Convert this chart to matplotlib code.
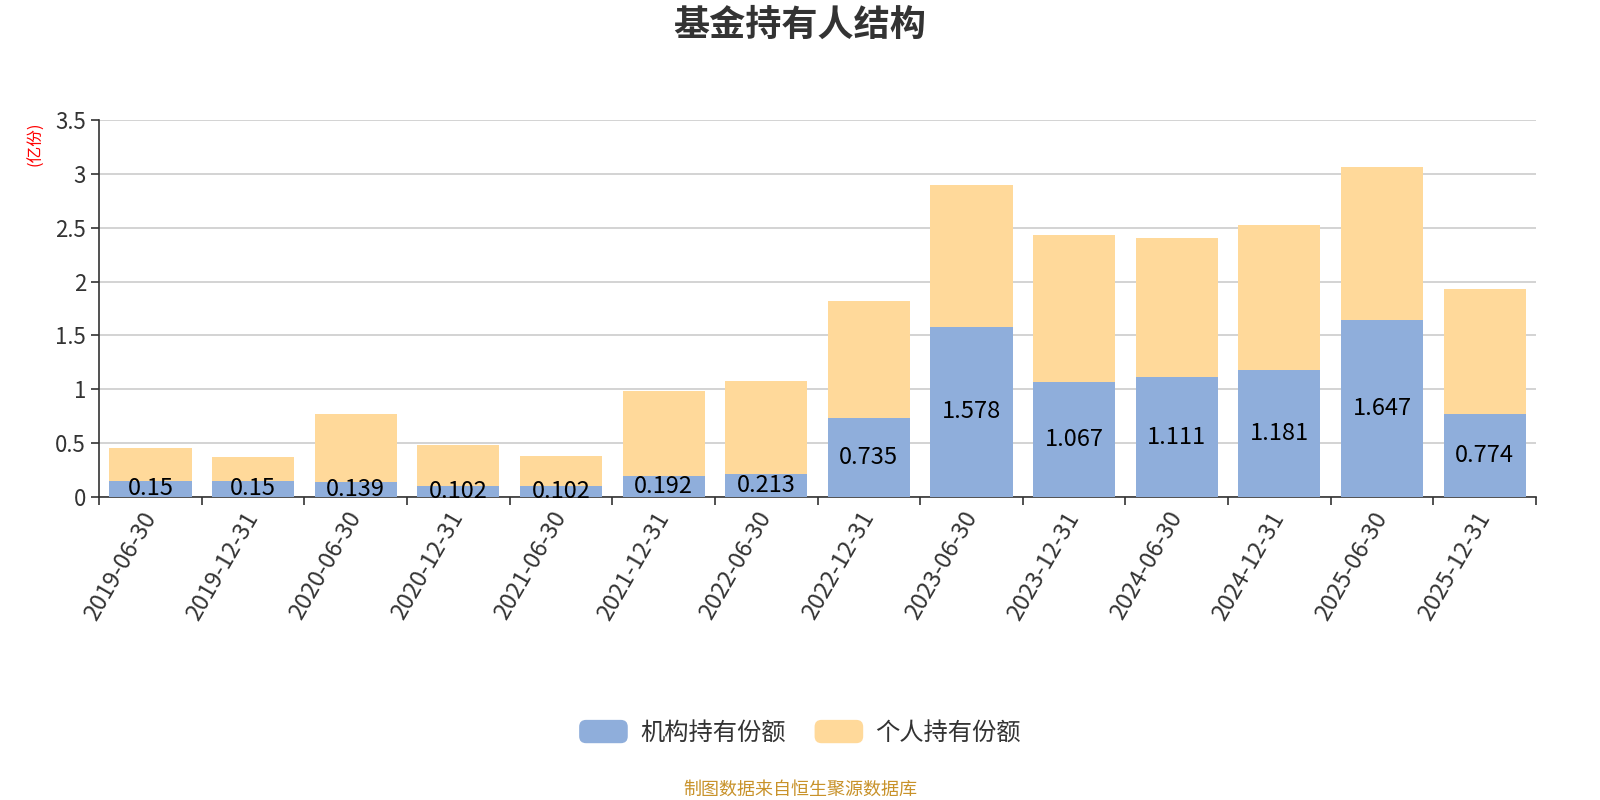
import numpy as np
import matplotlib
matplotlib.use('Agg')
from matplotlib import pyplot as plt
from matplotlib.patches import Patch, FancyBboxPatch
from matplotlib.legend_handler import HandlerPatch

plt.rcParams['font.family'] = ['Noto Sans CJK SC', 'DejaVu Sans']

dates = ['2019-06-30', '2019-12-31', '2020-06-30', '2020-12-31', '2021-06-30',
         '2021-12-31', '2022-06-30', '2022-12-31', '2023-06-30', '2023-12-31',
         '2024-06-30', '2024-12-31', '2025-06-30', '2025-12-31']
institution = [0.15, 0.15, 0.139, 0.102, 0.102, 0.192, 0.213, 0.735, 1.578,
               1.067, 1.111, 1.181, 1.647, 0.774]
personal = [0.30, 0.222, 0.631, 0.382, 0.277, 0.795, 0.864, 1.083, 1.317,
            1.369, 1.294, 1.348, 1.418, 1.159]
series_names = ['机构持有份额', '个人持有份额']

blue = '#8FAEDB'
orange = '#FFD99A'
dark = '#333333'


# legend key with rounded corners
class RoundedHandler(HandlerPatch):
    def create_artists(self, legend, orig_handle, xdescent, ydescent,
                       width, height, fontsize, trans):
        p = FancyBboxPatch((-xdescent, -ydescent), width, height,
                           boxstyle='round,pad=0,rounding_size=5',
                           facecolor=orig_handle.get_facecolor(),
                           edgecolor='none', transform=trans)
        return [p]


fig = plt.figure(figsize=(16, 8), dpi=100)
ax = fig.add_axes([0.062, 0.379, 0.898, 0.4705])

x = np.arange(len(dates))
ax.bar(x, institution, width=0.8, color=blue, zorder=3)
ax.bar(x, personal, width=0.8, bottom=institution, color=orange, zorder=3)

# value labels in the middle of the blue part
for xi, v in zip(x, institution):
    ax.text(xi, v / 2, str(v), ha='center', va='center', fontsize=17,
            color='black', zorder=4)

ax.set_xlim(-0.5, len(dates) - 0.5)
ax.set_ylim(0, 3.5)
ax.set_yticks(np.arange(0, 3.51, 0.5))
ax.set_yticklabels(['0', '0.5', '1', '1.5', '2', '2.5', '3', '3.5'])
ax.yaxis.grid(True, color='#cccccc', linewidth=1.2, zorder=0)

# ticks between bars, labels under bar centers
ax.set_xticks(np.arange(-0.5, len(dates), 1.0))
ax.set_xticklabels([])
ax.set_xticks(x, minor=True)
ax.set_xticklabels(dates, minor=True, rotation=60, ha='right', va='center',
                   rotation_mode='anchor', fontsize=17, color=dark)
ax.tick_params(axis='x', which='minor', length=0, pad=12)
ax.tick_params(axis='x', which='major', length=6, color=dark, width=1.2)
ax.tick_params(axis='y', length=6, color=dark, width=1.2, labelsize=16,
               labelcolor=dark)

for side in ['top', 'right']:
    ax.spines[side].set_visible(False)
for side in ['left', 'bottom']:
    ax.spines[side].set_color(dark)
    ax.spines[side].set_linewidth(1.2)

fig.text(0.5, 0.968, '基金持有人结构', ha='center', va='center',
         fontsize=26, fontweight='bold', color=dark)
fig.text(0.0225, 0.82, '(亿份)', ha='center', va='center', rotation=90,
         fontsize=12, color='red')

handles = [Patch(facecolor=blue, label=series_names[0]),
           Patch(facecolor=orange, label=series_names[1])]
fig.legend(handles=handles, loc='center', bbox_to_anchor=(0.5, 0.084), ncol=2,
           frameon=False, fontsize=17.5, handlelength=2.0, handleheight=1.1,
           handletextpad=0.5, columnspacing=1.2, labelcolor=dark,
           handler_map={Patch: RoundedHandler()})

fig.text(0.5, 0.013, '制图数据来自恒生聚源数据库', ha='center', va='center',
         fontsize=13, color='#C8922A')

fig.savefig('out.png', dpi=100)
